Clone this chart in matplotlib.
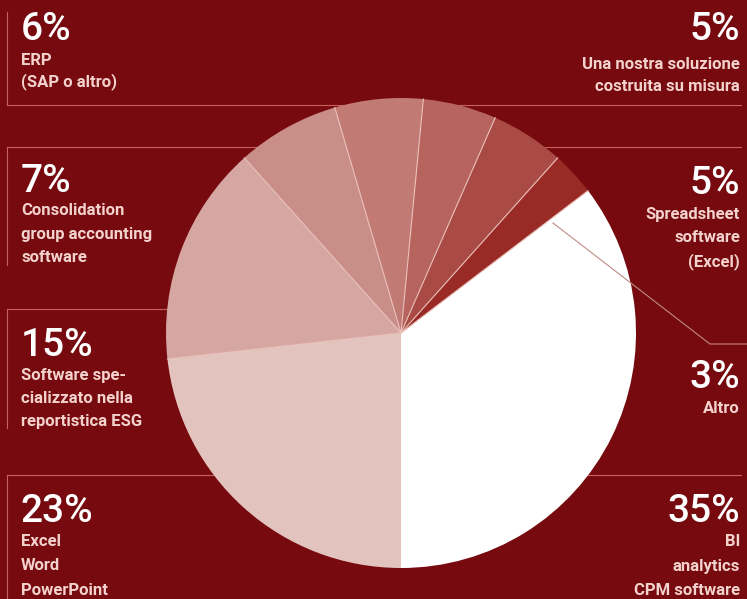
import matplotlib
matplotlib.use("Agg")
import matplotlib.pyplot as plt
import numpy as np

# ---- data ----
categories = ["BI\nanalytics\nCPM software", "Altro", "Spreadsheet\nsoftware\n(Excel)",
              "Una nostra soluzione\ncostruita su misura", "ERP\n(SAP o altro)",
              "Consolidation\ngroup accounting\nsoftware",
              "Software spe-\ncializzato nella\nreportistica ESG",
              "Excel\nWord\nPowerPoint"]
values = [35, 3, 5, 5, 6, 7, 15, 23]
pct_labels = ["35%", "3%", "5%", "5%", "6%", "7%", "15%", "23%"]
colors = ["#ffffff", "#9a2a25", "#a94a45", "#b7645f", "#c27a75", "#ca8e89", "#d6a7a2", "#e3c3be"]

BG = "#760a0e"
LINE = "#c4625e"
LABEL = "#f3d2ce"

W, H = 747, 599
fig = plt.figure(figsize=(W / 100, H / 100), dpi=100, facecolor=BG)
ax = fig.add_axes([0, 0, 1, 1])
ax.set_facecolor(BG)

def Y(y):
    return H - y

cx, cy, r = 401, 333, 235
wedges, _ = ax.pie(values, colors=colors, center=(cx, Y(cy)), radius=r, startangle=-90,
                   counterclock=True,
                   wedgeprops=dict(edgecolor="none", linewidth=0, zorder=3))
# thin light separators between slices (from the wedges' own angles)
for w in wedges[1:]:
    t = np.deg2rad(w.theta1)
    ax.plot([cx, cx + r * np.cos(t)], [Y(cy), Y(cy) + r * np.sin(t)],
            color="#ecc4bd", lw=0.8, zorder=4)

ax.set_xlim(0, W)
ax.set_ylim(0, H)
ax.set_aspect("equal")
ax.axis("off")

lw = 0.8
def hline(y, x0, x1, z=1):
    ax.plot([x0, x1], [Y(y), Y(y)], color=LINE, lw=lw, zorder=z)
def vline(x, y0, y1, z=1):
    ax.plot([x, x], [Y(y0), Y(y1)], color=LINE, lw=lw, zorder=z)

hline(105, 7, 741)
vline(7, 12, 105)
hline(147, 7, 741)
vline(7, 147, 265)
hline(309, 7, 300)
vline(7, 309, 428)
hline(475, 7, 741)
vline(7, 475, 599)
# Altro leader (on top)
ax.plot([553, 710, 747], [Y(223), Y(344), Y(344)], color="#c08a86", lw=lw, zorder=5)

FAM = ["Roboto", "DejaVu Sans"]
PSIZE = 28
LSIZE = 12

left_items = [  # (pct, label, pct baseline, first label baseline, spacing)
    ("6%", "ERP\n(SAP o altro)", 40, 65, 21.5),
    ("7%", "Consolidation\ngroup accounting\nsoftware", 192, 215, 23.5),
    ("15%", "Software spe-\ncializzato nella\nreportistica ESG", 356, 380, 23),
    ("23%", "Excel\nWord\nPowerPoint", 522, 546, 24.5),
]
right_items = [
    ("5%", "Una nostra soluzione\ncostruita su misura", 40, 69, 22),
    ("5%", "Spreadsheet\nsoftware\n(Excel)", 194, 219, 23.5),
    ("3%", "Altro", 388, 413, 23),
    ("35%", "BI\nanalytics\nCPM software", 522, 546, 24.5),
]

def draw(items, x, ha):
    for pct, lab, pb, lb, sp in items:
        ax.text(x, Y(pb), pct, ha=ha, va="baseline", color="white",
                fontsize=PSIZE, family=FAM, fontweight="medium", zorder=6)
        for i, line in enumerate(lab.split("\n")):
            ax.text(x, Y(lb + i * sp), line, ha=ha, va="baseline", color=LABEL,
                    fontsize=LSIZE, family=FAM, fontweight="bold", zorder=6)

draw(left_items, 21, "left")
draw(right_items, 740, "right")

fig.savefig("out.png", dpi=100, facecolor=BG)
